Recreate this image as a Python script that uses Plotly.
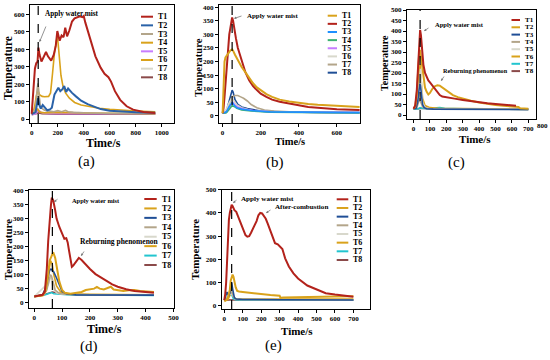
import plotly.graph_objects as go

# ---------------- data ----------------
series_names = ["T1", "T2", "T3", "T4", "T5", "T6", "T7", "T8"]
mist_times = [50, 50, 40, 65, 40]

# panel (a)
a_T1_t = [0, 8, 15, 25, 35, 45, 52, 60, 75, 90, 110, 125, 150, 170, 185, 197, 205, 215, 230, 245, 258, 272, 290, 310, 330, 350, 370, 390, 400, 412, 425, 450, 490, 530, 560, 590, 610, 640, 680, 730, 780, 860, 950]
a_T1_v = [30, 120, 200, 290, 320, 330, 410, 370, 330, 350, 385, 360, 335, 370, 420, 505, 470, 450, 480, 470, 525, 475, 510, 560, 578, 585, 590, 585, 592, 555, 520, 455, 360, 295, 260, 240, 215, 160, 110, 73, 54, 40, 35]
a_T2_t = [0, 30, 42, 50, 58, 70, 85, 100, 120, 140, 155, 175, 190, 205, 220, 235, 250, 265, 280, 295, 310, 340, 380, 430, 480, 530, 600, 700, 800, 950]
a_T2_v = [28, 40, 90, 120, 80, 60, 80, 65, 50, 55, 65, 140, 165, 180, 160, 170, 190, 155, 175, 160, 150, 130, 105, 85, 70, 57, 48, 42, 39, 36]
a_T3_t = [0, 30, 40, 48, 55, 65, 80, 100, 130, 170, 200, 230, 260, 280, 320, 400, 600, 950]
a_T3_v = [28, 60, 150, 205, 150, 80, 60, 50, 45, 42, 48, 42, 50, 42, 38, 35, 32, 30]
a_T4_t = [0, 30, 45, 55, 70, 100, 200, 300, 500, 950]
a_T4_v = [28, 40, 60, 45, 38, 35, 38, 36, 33, 30]
a_T5_t = [0, 30, 45, 55, 70, 100, 200, 400, 950]
a_T5_v = [25, 30, 45, 50, 38, 32, 30, 30, 30]
a_T6_t = [0, 20, 35, 45, 52, 60, 80, 100, 130, 145, 160, 175, 190, 198, 205, 215, 225, 240, 260, 290, 330, 380, 450, 520, 600, 700, 800, 950]
a_T6_v = [30, 60, 130, 160, 155, 140, 130, 128, 130, 150, 260, 380, 450, 470, 420, 320, 250, 190, 150, 120, 95, 80, 70, 62, 56, 50, 46, 42]
a_T7_t = [0, 30, 42, 50, 58, 70, 90, 120, 200, 400, 950]
a_T7_v = [30, 80, 170, 200, 120, 70, 55, 45, 40, 36, 33]
a_T8_t = [0, 40, 55, 80, 200, 500, 950]
a_T8_v = [25, 30, 35, 30, 28, 28, 28]

# panel (b)
b_T1_t = [0, 5, 10, 15, 20, 30, 40, 50, 55, 65, 80, 100, 120, 140, 160, 180, 200, 230, 260, 300, 350, 400, 450, 500, 600, 720]
b_T1_v = [10, 100, 200, 215, 220, 230, 240, 245, 240, 225, 205, 180, 160, 140, 120, 105, 95, 80, 70, 60, 53, 48, 44, 41, 37, 33]
b_T2_t = [0, 5, 10, 15, 20, 25, 30, 35, 40, 45, 50, 55, 60, 70, 80, 100, 120, 140, 160, 180, 200, 230, 260, 300, 350, 400, 450, 500, 600, 720]
b_T2_v = [10, 30, 70, 120, 180, 230, 270, 300, 320, 345, 362, 350, 325, 285, 250, 200, 160, 130, 110, 95, 82, 70, 60, 52, 45, 38, 33, 30, 25, 22]
b_T3_t = [0, 20, 35, 45, 50, 60, 75, 100, 150, 250, 720]
b_T3_v = [10, 15, 35, 48, 50, 40, 30, 25, 20, 15, 12]
b_T4_t = [0, 20, 35, 50, 60, 75, 100, 150, 250, 720]
b_T4_v = [10, 12, 25, 38, 35, 28, 22, 18, 14, 11]
b_T5_t = [0, 20, 35, 48, 55, 65, 80, 110, 160, 250, 720]
b_T5_v = [10, 14, 30, 45, 48, 40, 32, 25, 20, 15, 12]
b_T6_t = [0, 20, 35, 50, 60, 75, 100, 150, 250, 720]
b_T6_v = [10, 25, 50, 65, 55, 40, 30, 20, 15, 12]
b_T7_t = [0, 20, 35, 50, 65, 80, 95, 110, 130, 150, 180, 220, 270, 350, 500, 720]
b_T7_v = [10, 20, 45, 70, 75, 75, 70, 65, 55, 42, 30, 22, 18, 15, 13, 12]
b_T8_t = [0, 15, 25, 35, 45, 50, 55, 65, 80, 100, 130, 160, 200, 300, 450, 720]
b_T8_v = [10, 12, 30, 60, 85, 95, 88, 60, 42, 33, 27, 22, 18, 15, 13, 12]

# panel (c)
c_T1_t = [0, 10, 20, 25, 30, 35, 40, 45, 50, 55, 60, 70, 80, 90, 100, 115, 130, 145, 160, 175, 200, 250, 300, 350, 400, 450, 500, 550, 600, 625]
c_T1_v = [30, 45, 120, 200, 290, 360, 405, 380, 330, 280, 240, 200, 180, 165, 155, 140, 125, 110, 95, 88, 84, 78, 72, 66, 60, 56, 52, 49, 46, 44]
c_T2_t = [0, 10, 20, 25, 30, 35, 40, 45, 50, 60, 70, 80, 90, 100, 115, 130, 145, 160, 175, 190, 210, 240, 270, 300, 350, 400, 450, 500, 550, 600, 640, 650, 700]
c_T2_v = [30, 40, 100, 180, 250, 300, 310, 280, 230, 170, 130, 110, 98, 105, 125, 137, 142, 140, 132, 122, 110, 95, 85, 78, 68, 60, 53, 48, 44, 40, 38, 32, 30]
c_T3_t = [0, 15, 25, 32, 38, 42, 48, 55, 65, 80, 120, 300, 700]
c_T3_v = [30, 32, 60, 120, 150, 140, 90, 50, 35, 30, 28, 27, 26]
c_T4_t = [0, 20, 30, 38, 45, 55, 70, 100, 300, 700]
c_T4_v = [30, 35, 60, 80, 60, 40, 32, 30, 28, 27]
c_T5_t = [0, 20, 30, 38, 42, 48, 55, 70, 100, 300, 700]
c_T5_v = [30, 40, 120, 200, 220, 150, 60, 35, 30, 28, 27]
c_T6_t = [0, 15, 25, 35, 40, 45, 55, 70, 100, 150, 300, 700]
c_T6_v = [30, 40, 100, 200, 240, 180, 80, 45, 35, 32, 30, 28]
c_T7_t = [0, 30, 40, 50, 80, 110, 140, 160, 190, 230, 300, 450, 700]
c_T7_v = [28, 30, 35, 32, 30, 30, 34, 35, 32, 30, 29, 28, 27]
c_T8_t = [0, 30, 40, 60, 100, 300, 500, 700]
c_T8_v = [28, 30, 34, 32, 30, 29, 28, 27]

# panel (d)
d_T1_t = [0, 20, 30, 38, 45, 50, 55, 60, 63, 68, 75, 80, 90, 100, 108, 115, 120, 125, 130, 135, 140, 150, 160, 170, 180, 200, 220, 250, 280, 300, 330, 360, 400, 430]
d_T1_v = [22, 25, 28, 40, 120, 220, 300, 350, 375, 365, 330, 300, 270, 245, 228, 230, 215, 185, 150, 128, 132, 145, 160, 152, 140, 120, 102, 82, 65, 57, 48, 42, 38, 35]
d_T2_t = [0, 30, 40, 50, 55, 62, 68, 75, 80, 90, 100, 110, 130, 150, 170, 185, 200, 215, 225, 235, 250, 265, 275, 285, 300, 320, 340, 360, 380, 400, 430]
d_T2_v = [22, 25, 40, 100, 150, 165, 180, 160, 130, 75, 45, 35, 32, 35, 38, 45, 47, 50, 56, 50, 47, 52, 57, 47, 44, 42, 44, 45, 42, 40, 38]
d_T3_t = [0, 30, 40, 48, 55, 60, 65, 70, 80, 90, 100, 115, 150, 430]
d_T3_v = [22, 28, 50, 90, 115, 120, 115, 110, 88, 60, 40, 32, 28, 27]
d_T4_t = [0, 35, 45, 52, 58, 62, 68, 75, 90, 110, 200, 430]
d_T4_v = [22, 28, 45, 80, 100, 95, 70, 45, 33, 30, 28, 27]
d_T5_t = [0, 15, 30, 40, 50, 55, 60, 68, 80, 100, 200, 430]
d_T5_v = [22, 35, 50, 60, 62, 85, 90, 50, 35, 30, 28, 27]
d_T6_t = [0, 30, 45, 52, 58, 64, 70, 80, 95, 120, 200, 430]
d_T6_v = [22, 28, 60, 120, 150, 140, 100, 60, 38, 32, 30, 28]
d_T7_t = [0, 20, 40, 55, 62, 70, 90, 130, 200, 300, 430]
d_T7_v = [22, 24, 28, 34, 36, 32, 30, 28, 28, 27, 26]
d_T8_t = [0, 20, 40, 55, 65, 80, 110, 200, 300, 430]
d_T8_v = [22, 24, 30, 36, 38, 35, 30, 28, 27, 27]

# panel (e)
e_T1_t = [0, 5, 10, 15, 20, 25, 30, 35, 40, 45, 50, 55, 65, 75, 85, 100, 115, 125, 135, 145, 155, 165, 175, 185, 195, 205, 215, 225, 235, 250, 265, 275, 290, 305, 315, 330, 350, 375, 400, 450, 500, 550, 600, 650, 700]
e_T1_v = [25, 50, 100, 200, 300, 370, 400, 425, 435, 430, 415, 412, 405, 385, 360, 330, 305, 298, 300, 315, 330, 345, 365, 390, 400, 398, 385, 375, 355, 320, 285, 270, 265, 255, 245, 205, 170, 140, 118, 88, 70, 55, 49, 44, 40]
e_T2_t = [0, 10, 20, 30, 35, 40, 45, 50, 55, 62, 70, 80, 100, 150, 200, 250, 300, 305, 320, 400, 500, 600, 700]
e_T2_v = [20, 25, 35, 70, 110, 130, 135, 125, 100, 80, 65, 62, 60, 55, 50, 47, 44, 35, 36, 38, 40, 41, 42]
e_T3_t = [0, 5, 10, 15, 20, 25, 30, 35, 40, 45, 50, 55, 65, 100, 300, 700]
e_T3_v = [25, 40, 55, 60, 50, 45, 55, 80, 100, 75, 45, 35, 30, 28, 27, 26]
e_T4_t = [0, 10, 20, 30, 40, 50, 60, 100, 700]
e_T4_v = [25, 30, 40, 55, 60, 40, 30, 28, 26]
e_T5_t = [0, 10, 20, 30, 40, 50, 60, 100, 700]
e_T5_v = [25, 32, 45, 50, 55, 40, 30, 28, 26]
e_T6_t = [0, 20, 30, 40, 50, 60, 100, 300, 700]
e_T6_v = [25, 28, 45, 60, 40, 32, 30, 30, 30]
e_T7_t = [0, 10, 20, 30, 35, 40, 45, 50, 60, 100, 700]
e_T7_v = [25, 28, 35, 45, 55, 50, 35, 30, 27, 26, 25]
e_T8_t = [0, 30, 40, 60, 200, 700]
e_T8_v = [25, 27, 28, 27, 26, 25]

# ---------------- styling ----------------
W, H = 550, 360
FONT = "Liberation Serif"
RED = "#B3221B"
GOLD = "#D9A21B"
NAVY = "#1F4E96"
BLUE_A = "#2A62A8"
TAN = "#B3A58A"
VIOLET = "#C77DFF"
LGRAY = "#D8D8CC"
BROWN = "#8B4A4A"
BLUE = "#1E90FF"
GREEN = "#3CB371"
CYAN = "#22C5CF"

colors_a = [RED, BLUE_A, TAN, GOLD, VIOLET, GOLD, LGRAY, BROWN]
colors_b = [GOLD, RED, BLUE, GREEN, VIOLET, LGRAY, TAN, NAVY]
colors_cde = [RED, GOLD, NAVY, TAN, LGRAY, GOLD, CYAN, BROWN]


def X(p):
    return p / W


def Y(p):
    return 1 - p / H


g = globals()
panels = [
    dict(k="a", xd=(30, 174), yd=(5, 123), xr=[-13, 1094], yr=[-23, 655],
         xt=list(range(0, 1001, 200)), yt=list(range(0, 601, 100)), colors=colors_a,
         leg=(141, 153, 156, 16.7, 8.66, 8), ytitle=(8, 68), xtitle=(103, 143), lab=(86, 162),
         yts=11.5, xts=12),
    dict(k="b", xd=(219, 360), yd=(5, 123), xr=[-19, 722], yr=[-26, 408],
         xt=list(range(0, 601, 200)), yt=list(range(0, 401, 50)), colors=colors_b,
         leg=(327.7, 337, 340, 15.7, 8.14, 7.8), ytitle=(198, 68), xtitle=(290, 142), lab=(275, 163),
         yts=10.5, xts=10.5),
    dict(k="c", xd=(407, 536), yd=(10, 119), xr=[-40, 747], yr=[-19, 500],
         xt=list(range(0, 701, 100)), yt=list(range(0, 501, 50)), colors=colors_cde,
         leg=(511.5, 520, 522.5, 20, 7.3, 7), ytitle=(384, 63), xtitle=(475, 139), lab=(456, 163),
         yts=10, xts=11),
    dict(k="d", xd=(29, 174), yd=(190, 308), xr=[-19, 502], yr=[-19, 402],
         xt=list(range(0, 501, 100)), yt=list(range(0, 401, 50)), colors=colors_cde,
         leg=(144.3, 156.7, 159.5, 199, 9.43, 8), ytitle=(8, 250), xtitle=(104, 328.5), lab=(89, 346),
         yts=11, xts=12),
    dict(k="e", xd=(221.7, 370), yd=(189.7, 309), xr=[-14, 790], yr=[-13, 500],
         xt=list(range(0, 701, 100)), yt=list(range(0, 501, 100)), colors=colors_cde,
         leg=(336.7, 348.3, 351, 199.3, 8.67, 8), ytitle=(195, 250), xtitle=(297, 331), lab=(273, 345),
         yts=11, xts=11),
]

fig = go.Figure()
shapes = []
annotations = []
layout = {}

for i, p in enumerate(panels):
    n = i + 1
    xa = "x" if n == 1 else f"x{n}"
    ya = "y" if n == 1 else f"y{n}"
    xkey = "xaxis" if n == 1 else f"xaxis{n}"
    ykey = "yaxis" if n == 1 else f"yaxis{n}"
    axis_common = dict(showline=True, linecolor="black", linewidth=1, mirror=True,
                       ticks="outside", ticklen=3, tickwidth=1, tickcolor="black",
                       showgrid=False, zeroline=False, automargin=False,
                       tickfont=dict(family=FONT, size=7, color="black", weight="bold"))
    layout[xkey] = dict(domain=[X(p["xd"][0]), X(p["xd"][1])], range=p["xr"], anchor=ya,
                        tickmode="array", tickvals=p["xt"], **axis_common)
    layout[ykey] = dict(domain=[Y(p["yd"][1]), Y(p["yd"][0])], range=p["yr"], anchor=xa,
                        tickmode="array", tickvals=p["yt"], **axis_common)

    # curves (T8 first so T1 ends on top)
    for j in reversed(range(8)):
        name = series_names[j]
        t = g[f"{p['k']}_{name}_t"]
        v = g[f"{p['k']}_{name}_v"]
        fig.add_trace(go.Scatter(x=t, y=v, mode="lines", xaxis=xa, yaxis=ya,
                                 line=dict(color=p["colors"][j], width=2.0 if j < 2 else 1.6),
                                 showlegend=False, hoverinfo="skip"))

    # dashed mist line
    shapes.append(dict(type="line", xref=xa, yref=f"{ya} domain", x0=mist_times[i], x1=mist_times[i],
                       y0=0, y1=1, line=dict(color="black", width=1.2, dash="dash")))

    # manual legend
    lx0, lx1, tx, ly0, dy, lfs = p["leg"]
    for j, name in enumerate(series_names):
        yy = ly0 + j * dy
        shapes.append(dict(type="line", xref="paper", yref="paper", x0=X(lx0), x1=X(lx1),
                           y0=Y(yy), y1=Y(yy), line=dict(color=p["colors"][j], width=2)))
        annotations.append(dict(text=name, xref="paper", yref="paper", x=X(tx), y=Y(yy),
                                xanchor="left", yanchor="middle", showarrow=False,
                                font=dict(family=FONT, size=lfs, color="black", weight="bold")))

    # axis titles and panel label
    annotations.append(dict(text="Temperature", xref="paper", yref="paper", x=X(p["ytitle"][0]),
                            y=Y(p["ytitle"][1]), textangle=-90, showarrow=False,
                            xanchor="center", yanchor="middle",
                            font=dict(family=FONT, size=p["yts"], color="black", weight="bold")))
    annotations.append(dict(text="Time/s", xref="paper", yref="paper", x=X(p["xtitle"][0]),
                            y=Y(p["xtitle"][1]), showarrow=False, xanchor="center", yanchor="middle",
                            font=dict(family=FONT, size=p["xts"], color="black", weight="bold")))
    annotations.append(dict(text=f"({p['k']})", xref="paper", yref="paper", x=X(p["lab"][0]),
                            y=Y(p["lab"][1]), showarrow=False, xanchor="center", yanchor="middle",
                            font=dict(family=FONT, size=15, color="black")))

# extra tick label beyond frame in (c)
annotations.append(dict(text="800", xref="paper", yref="paper", x=X(542), y=Y(125.5), showarrow=False,
                        xanchor="center", yanchor="middle",
                        font=dict(family=FONT, size=7, color="black", weight="bold")))

# callout texts (left edge px, centre y px, font size) and arrows (tail -> head, px)
callouts = [
    ("Apply water mist", 43, 14, 7.2, (46.5, 25), (39.5, 42)),
    ("Apply water mist", 245, 15.5, 6.9, (243, 15.5), (234, 18.5)),
    ("Apply water mist", 433, 25, 6.5, (430, 27), (424, 31)),
    ("Reburning phenomenon", 441, 71, 6.2, (445, 75), (441, 81)),
    ("Apply water mist", 70, 200.5, 6.4, (59, 198), (54, 202)),
    ("Reburning phenomenon", 77.5, 241.5, 7.5, (85, 250), (81, 256)),
    ("Apply water mist", 239, 198.5, 7.1, (238, 199), (233, 203)),
    ("After-combustion", 273, 207, 7.1, (272, 209), (266, 213)),
]
for text, tx, ty, fs, tail, head in callouts:
    annotations.append(dict(text=text, xref="paper", yref="paper", x=X(tx), y=Y(ty),
                            xanchor="left", yanchor="middle", showarrow=False,
                            font=dict(family=FONT, size=fs, color="black", weight="bold")))
    annotations.append(dict(text="", xref="paper", yref="paper", x=X(head[0]), y=Y(head[1]),
                            axref="pixel", ayref="pixel", ax=tail[0] - head[0], ay=tail[1] - head[1],
                            showarrow=True, arrowhead=2, arrowsize=0.6, arrowwidth=0.8,
                            arrowcolor="#777777"))

fig.update_layout(template="none", width=W, height=H, margin=dict(l=0, r=0, t=0, b=0, autoexpand=False),
                  paper_bgcolor="white", plot_bgcolor="white", showlegend=False,
                  shapes=shapes, annotations=annotations, **layout)

fig.write_html("out.html", config={"displayModeBar": False},
               post_script="document.body.style.margin='0';document.body.style.padding='0';"
                           "document.body.style.overflow='hidden';")
